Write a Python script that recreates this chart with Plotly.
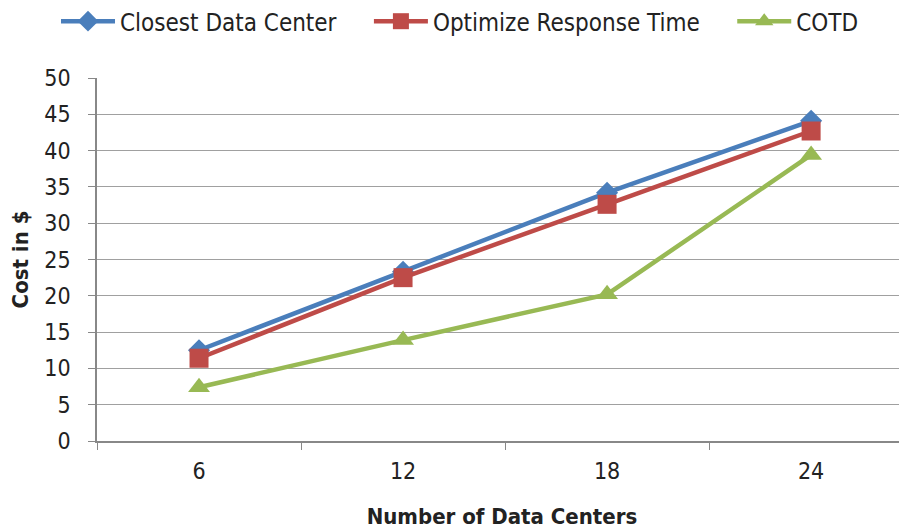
import plotly.graph_objects as go

categories = ["6", "12", "18", "24"]
closest = [12.5, 23.3, 34.2, 44.1]
optimize = [11.4, 22.5, 32.6, 42.7]
cotd = [7.4, 13.9, 20.2, 39.4]
names = ["Closest Data Center", "Optimize Response Time", "COTD"]

FONT = "DejaVu Sans Condensed, Liberation Sans Narrow, sans-serif"
PAD = "\u00a0" * 4

fig = go.Figure()
fig.add_trace(go.Scatter(x=categories, y=closest, name=names[0] + PAD, mode="lines+markers",
                         line=dict(color="#4A7EBB", width=4.5),
                         marker=dict(symbol="diamond", size=17, color="#4A7EBB")))
fig.add_trace(go.Scatter(x=categories, y=optimize, name=names[1] + PAD, mode="lines+markers",
                         line=dict(color="#BE4B48", width=4.5),
                         marker=dict(symbol="square", size=19, color="#BE4B48")))
fig.add_trace(go.Scatter(x=categories, y=cotd, name=names[2], mode="lines+markers",
                         line=dict(color="#98B954", width=4.5),
                         marker=dict(symbol="triangle-up", size=19, color="#98B954")))

fig.update_layout(
    width=899, height=523,
    margin=dict(l=89, r=0, t=70, b=90),
    paper_bgcolor="white", plot_bgcolor="white",
    font=dict(family=FONT, size=22, color="#222222"),
    showlegend=True,
    legend=dict(orientation="h", x=0.0534, xanchor="left", xref="container",
                y=0.974, yanchor="middle", yref="container",
                font=dict(size=24, family=FONT), itemwidth=54,
                traceorder="normal"),
    xaxis=dict(type="category", range=[-0.5, 3.47], tickson="boundaries", automargin=False,
               ticks="outside", ticklen=7, tickcolor="#888888", showgrid=False,
               showline=True, linecolor="#888888", linewidth=1.5,
               tickfont=dict(size=23, family=FONT), ticklabelstandoff=9,
               title=dict(text="<b>Number of Data Centers</b>", font=dict(size=22, family=FONT), standoff=25)),
    yaxis=dict(range=[0, 50], dtick=5, ticks="outside", ticklen=7, tickcolor="#888888", automargin=False,
               showgrid=True, gridcolor="#A0A0A0", gridwidth=1.2,
               showline=True, linecolor="#888888", linewidth=1.5, zeroline=False,
               tickfont=dict(size=23, family=FONT), ticklabelstandoff=13,
               title=dict(text="<b>Cost in $</b>", font=dict(size=22, family=FONT), standoff=10)),
)

fig.write_html("out.html")
